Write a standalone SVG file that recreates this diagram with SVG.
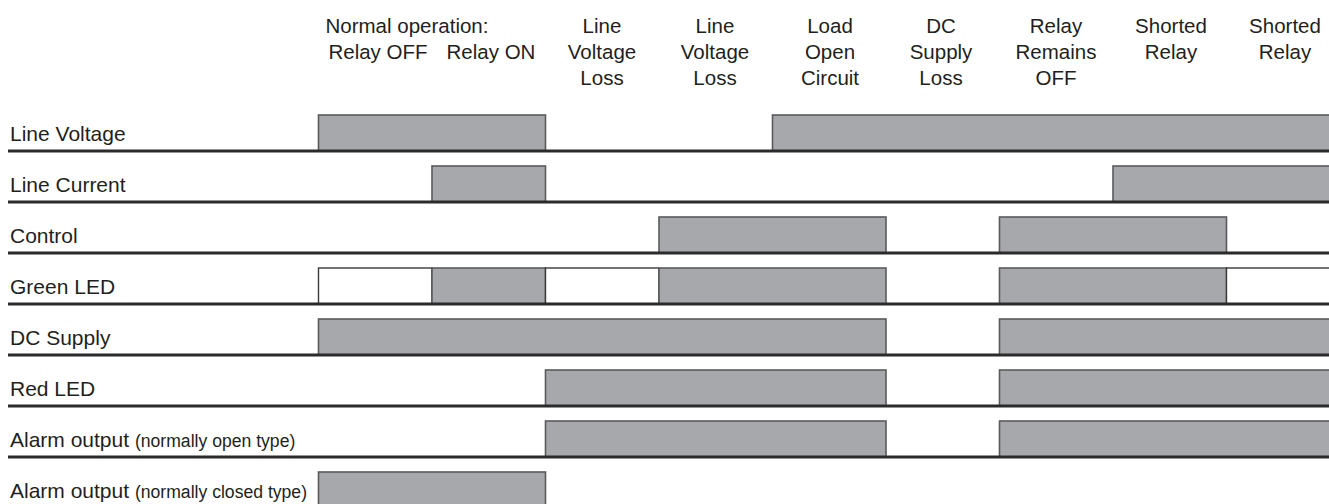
<svg xmlns="http://www.w3.org/2000/svg" width="1329" height="504" viewBox="0 0 1329 504">
<style>
text{font-family:"Liberation Sans",Arial,Helvetica,sans-serif;fill:#231f20}
.hd{font-size:20.5px;text-anchor:middle}
.lb{font-size:21px}
.sm{font-size:17.6px}
.on{fill:#a7a8ab;stroke:#5a5a5c;stroke-width:1.6}
.off{fill:#ffffff;stroke:#3a3a3a;stroke-width:1.4}
.base{stroke:#2b2b2b;stroke-width:3;fill:none}
</style>
<rect width="1329" height="504" fill="#ffffff"/>
<g id="header">
<text class="hd" x="407" y="33">Normal operation:</text>
<text class="hd" x="378" y="58.5">Relay OFF</text>
<text class="hd" x="491" y="58.5">Relay ON</text>
<text class="hd" x="602"><tspan x="602" y="33">Line</tspan><tspan x="602" y="58.5">Voltage</tspan><tspan x="602" y="84.5">Loss</tspan></text>
<text class="hd" x="715"><tspan x="715" y="33">Line</tspan><tspan x="715" y="58.5">Voltage</tspan><tspan x="715" y="84.5">Loss</tspan></text>
<text class="hd" x="830"><tspan x="830" y="33">Load</tspan><tspan x="830" y="58.5">Open</tspan><tspan x="830" y="84.5">Circuit</tspan></text>
<text class="hd" x="941"><tspan x="941" y="33">DC</tspan><tspan x="941" y="58.5">Supply</tspan><tspan x="941" y="84.5">Loss</tspan></text>
<text class="hd" x="1056"><tspan x="1056" y="33">Relay</tspan><tspan x="1056" y="58.5">Remains</tspan><tspan x="1056" y="84.5">OFF</tspan></text>
<text class="hd" x="1171"><tspan x="1171" y="33">Shorted</tspan><tspan x="1171" y="58.5">Relay</tspan></text>
<text class="hd" x="1285"><tspan x="1285" y="33">Shorted</tspan><tspan x="1285" y="58.5">Relay</tspan></text>
</g>
<g id="row-line-voltage">
<text class="lb" x="10" y="141">Line Voltage</text>
<rect class="on" x="318.5" y="115" width="227" height="36"/>
<rect class="on" x="772.5" y="115" width="565" height="36"/>
</g>
<g id="row-line-current">
<text class="lb" x="10" y="192">Line Current</text>
<rect class="on" x="432" y="166" width="113.5" height="36"/>
<rect class="on" x="1113" y="166" width="225" height="36"/>
</g>
<g id="row-control">
<text class="lb" x="10" y="243">Control</text>
<rect class="on" x="659" y="217" width="227" height="36"/>
<rect class="on" x="999.5" y="217" width="227" height="36"/>
</g>
<g id="row-green-led">
<text class="lb" x="10" y="294">Green LED</text>
<rect class="off" x="318.5" y="268" width="113.5" height="36"/>
<rect class="on" x="432" y="268" width="113.5" height="36"/>
<rect class="off" x="545.5" y="268" width="113.5" height="36"/>
<rect class="on" x="659" y="268" width="227" height="36"/>
<rect class="on" x="999.5" y="268" width="227" height="36"/>
<rect class="off" x="1226.5" y="268" width="112" height="36"/>
</g>
<g id="row-dc-supply">
<text class="lb" x="10" y="345">DC Supply</text>
<rect class="on" x="318.5" y="319" width="567.5" height="36"/>
<rect class="on" x="999.5" y="319" width="338" height="36"/>
</g>
<g id="row-red-led">
<text class="lb" x="10" y="396">Red LED</text>
<rect class="on" x="545.5" y="370" width="340.5" height="36"/>
<rect class="on" x="999.5" y="370" width="338" height="36"/>
</g>
<g id="row-alarm-no">
<text class="lb" x="10" y="447">Alarm output <tspan class="sm">(normally open type)</tspan></text>
<rect class="on" x="545.5" y="421" width="340.5" height="36"/>
<rect class="on" x="999.5" y="421" width="338" height="36"/>
</g>
<g id="row-alarm-nc">
<text class="lb" x="10" y="498">Alarm output <tspan class="sm">(normally closed type)</tspan></text>
<rect class="on" x="318.5" y="472" width="227" height="36"/>
</g>
<g id="baselines">
<path class="base" d="M8 151H1329M8 202H1329M8 253H1329M8 304H1329M8 355H1329M8 406H1329M8 457H1329"/>
</g>
</svg>
